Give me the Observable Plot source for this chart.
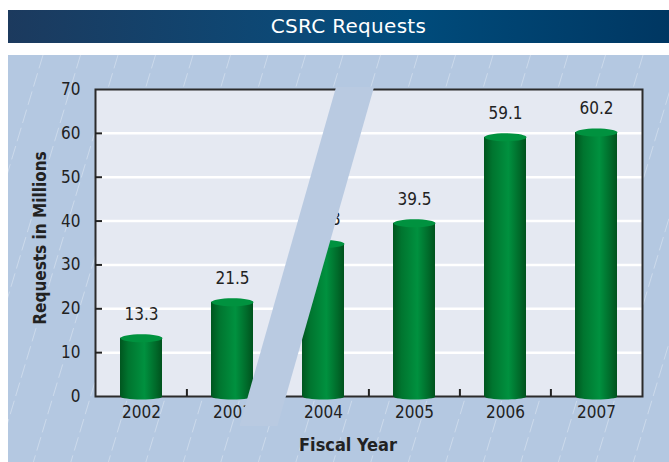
<!DOCTYPE html>
<html>
<head>
<meta charset="utf-8">
<script src="https://cdn.jsdelivr.net/npm/d3@7"></script>
<script src="https://cdn.jsdelivr.net/npm/@observablehq/plot@0.6"></script>
<style>
  html, body { margin: 0; padding: 0; background: #ffffff; }
  body { width: 669px; height: 462px; position: relative; overflow: hidden; }
  #title {
    position: absolute; left: 8px; top: 10px; width: 661px; height: 33px;
    background: linear-gradient(to right, #1c3a5e 0%, #0b4a78 45%, #004c7c 60%, #003762 100%);
    color: #ffffff; font-family: "DejaVu Sans", sans-serif; font-size: 20px;
    line-height: 33px; text-align: center; padding-left: 20px; box-sizing: border-box;
    letter-spacing: 0.3px;
  }
  #chart { position: absolute; left: 8px; top: 55px; width: 661px; height: 407px; background: #b4c8e1; }
  #chart svg { display: block; }
</style>
</head>
<body>
<svg width="0" height="0" style="position:absolute">
  <defs>
    <linearGradient id="cyl" x1="0" x2="1" y1="0" y2="0">
      <stop offset="0%" stop-color="#00561f"/>
      <stop offset="20%" stop-color="#00752f"/>
      <stop offset="58%" stop-color="#00913f"/>
      <stop offset="85%" stop-color="#006a2a"/>
      <stop offset="100%" stop-color="#00521d"/>
    </linearGradient>
  </defs>
</svg>
<div id="title">CSRC Requests</div>
<div id="chart"></div>
<script>
const years = ["2002", "2003", "2004", "2005", "2006", "2007"];
const requests = [13.3, 21.5, 34.8, 39.5, 59.1, 60.2];
const yTicks = [0, 10, 20, 30, 40, 50, 60, 70];
const gridValues = [10, 20, 30, 40, 50, 60];
const yLabel = "Requests in Millions";
const xLabel = "Fiscal Year";

const data = years.map((year, i) => ({year, value: requests[i]}));

const FONT = '"Liberation Sans Narrow", "DejaVu Sans Condensed", "Roboto Condensed", "Liberation Sans", sans-serif';

// ellipse symbol for cylinder caps
function ellipseSymbol(rx, ry) {
  const k = 0.5523;
  return {
    draw(ctx) {
      ctx.moveTo(rx, 0);
      ctx.bezierCurveTo(rx, k * ry, k * rx, ry, 0, ry);
      ctx.bezierCurveTo(-k * rx, ry, -rx, k * ry, -rx, 0);
      ctx.bezierCurveTo(-rx, -k * ry, -k * rx, -ry, 0, -ry);
      ctx.bezierCurveTo(k * rx, -ry, rx, -k * ry, rx, 0);
      ctx.closePath();
    }
  };
}

// decorative dashed diagonal lines on the panel
function panelLines(index, scales, values, dims) {
  const g = d3.create("svg:g");
  const s = 0.3, step = 37.5;
  for (let k = -6; k < 26; k++) {
    const xt = 35 + k * step;
    g.append("line")
      .attr("x1", xt).attr("y1", 0)
      .attr("x2", xt - s * dims.height).attr("y2", dims.height)
      .attr("stroke", "#ffffff").attr("stroke-opacity", 0.4)
      .attr("stroke-width", 0.8).attr("stroke-dasharray", "14,5");
  }
  return g.node();
}

// axis-break stripe
function breakStripe(index, scales) {
  const x = scales.x, y = scales.y;
  const bw = x.bandwidth ? x.bandwidth() : 42;
  const xc = x("2003") + bw / 2;
  const yAxis = y(0), yTop = y(70) - 2, yEnd = y(0) + 30;
  const s = 0.285, hw = 19;
  const cx0 = xc + 35;
  const cx = yy => cx0 + (yAxis - yy) * s;
  const pts = [
    [cx(yTop) - hw, yTop], [cx(yTop) + hw, yTop],
    [cx(yEnd) + hw, yEnd], [cx(yEnd) - hw, yEnd]
  ];
  const g = d3.create("svg:g");
  g.append("path").attr("d", "M" + pts.map(p => p.join(",")).join("L") + "Z").attr("fill", "#b9cae1");
  return g.node();
}

const plot = Plot.plot({
  width: 661,
  height: 407,
  marginLeft: 87,
  marginRight: 27,
  marginTop: 34,
  marginBottom: 66,
  style: {fontFamily: FONT, fontSize: "17px", color: "#222", background: "transparent"},
  x: {type: "band", domain: years, paddingInner: 0.54, paddingOuter: 0.27, label: null},
  y: {domain: [0, 70], label: null},
  marks: [
    panelLines,
    Plot.frame({fill: "#e5e9f2"}),
    Plot.ruleY(gridValues, {y: d => d, stroke: "#ffffff", strokeWidth: 2.5}),
    Plot.frame({stroke: "#2b2b2b", strokeWidth: 2}),
    Plot.ruleY(yTicks.slice(1, -1), {y: d => d, stroke: "#222", strokeWidth: 2, insetRight: 540}),
    Plot.ruleX(years.slice(1), {x: d => d, dx: -45.6, stroke: "#222", strokeWidth: 2, insetTop: 300}),
    Plot.axisY(yTicks, {tickSize: 0, tickPadding: 15, fontSize: 17, fill: "#222", label: null}),
    Plot.axisX({tickSize: 0, tickPadding: 9, fontSize: 17, fill: "#222", label: null}),
    Plot.dot(data, {x: "year", y: 0, symbol: ellipseSymbol(21, 3), fill: "url(#cyl)", stroke: "none"}),
    Plot.barY(data, {x: "year", y: "value", fill: "url(#cyl)"}),
    Plot.dot(data, {x: "year", y: "value", symbol: ellipseSymbol(21, 4), fill: "#00923f", stroke: "none"}),
    Plot.text(data, {x: "year", y: "value", text: d => d.value.toFixed(1), dy: -24, fontSize: 17, fill: "#222"}),
    Plot.text([yLabel], {text: d => d, frameAnchor: "left", textAnchor: "middle", rotate: -90, dx: -55, dy: -5, fontSize: 17, fontWeight: "bold", fill: "#222"}),
    Plot.text([xLabel], {text: d => d, frameAnchor: "bottom", textAnchor: "middle", dx: -21, dy: 54, fontSize: 18, fontWeight: "bold", fill: "#222"}),
    breakStripe
  ]
});

document.getElementById("chart").appendChild(plot);
</script>
</body>
</html>
